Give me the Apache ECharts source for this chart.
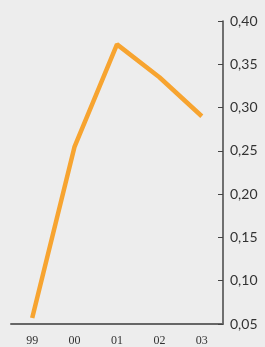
<!DOCTYPE html>
<html>
<head>
<meta charset="utf-8">
<script src="https://cdn.jsdelivr.net/npm/echarts@6/dist/echarts.min.js"></script>
<style>
html,body{margin:0;padding:0;background:#ededed;}
#container{width:265px;height:347px;}
</style>
</head>
<body>
<div id="container"></div>
<script>
var categories = ['99', '00', '01', '02', '03'];
var values = [0.057, 0.255, 0.373, 0.335, 0.29];

var chart = echarts.init(document.getElementById('container'));
var option = {
	backgroundColor: '#ededed',
	animation: false,
	grid: {left: 11, right: 42, top: 21, bottom: 21},
	xAxis: {
		type: 'category',
		data: categories,
		boundaryGap: true,
		axisLine: {lineStyle: {color: '#666', width: 2}},
		axisTick: {inside: true, length: 5, lineStyle: {color: '#444'}},
		axisLabel: {color: '#333', fontFamily: 'Liberation Serif', fontSize: 12, margin: 11}
	},
	yAxis: {
		type: 'value',
		position: 'right',
		min: 0.05,
		max: 0.40,
		interval: 0.05,
		splitLine: {show: false},
		axisLine: {show: true, lineStyle: {color: '#444', width: 1.5}},
		axisTick: {show: true, inside: true, length: 5, lineStyle: {color: '#444'}},
		axisLabel: {
			color: '#333', fontFamily: 'Lato', fontSize: 14, margin: 7,
			formatter: function(v){ return v.toFixed(2).replace('.', ','); }
		}
	},
	series: [{
		type: 'line',
		data: values,
		symbol: 'none',
		lineStyle: {color: '#f7a430', width: 4.5}
	}]
};
chart.setOption(option);
</script>
</body>
</html>
